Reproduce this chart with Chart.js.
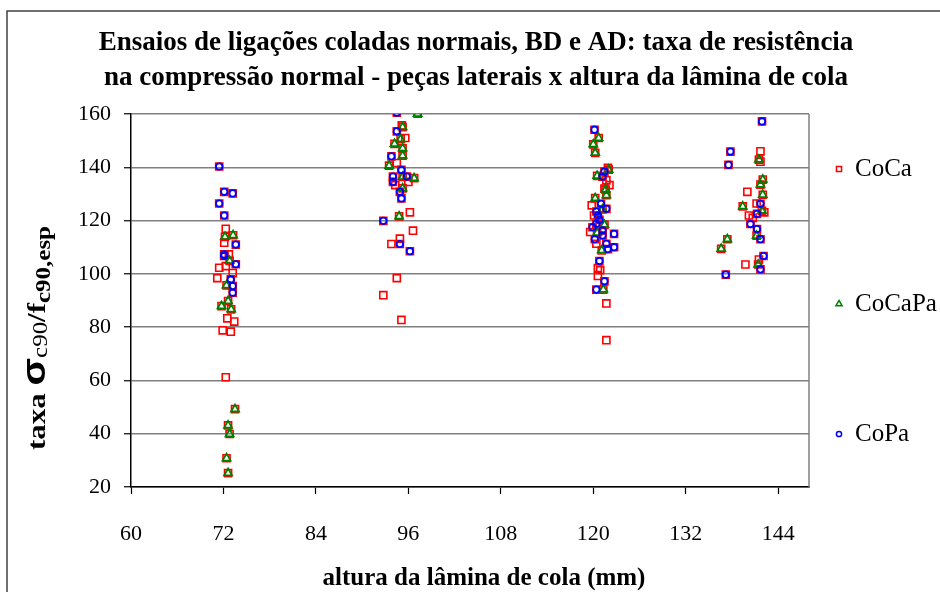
<!DOCTYPE html>
<html>
<head>
<meta charset="utf-8">
<script src="https://cdn.jsdelivr.net/npm/chart.js@4/dist/chart.umd.min.js"></script>
<style>
  body { margin: 0; background: #fff; }
  canvas { display: block; }
</style>
</head>
<body>
<canvas id="chart" width="940" height="592"></canvas>
<script>
// Points: [altura (mm), taxa]
const cocaOnly = [
    [72.3, 116.9], [72.1, 111.7], [72.7, 107.3], [72.3, 102.9], [71.45, 102.3], [73.2, 100.3],
    [71.2, 98.4], [72.5, 83.3], [73.4, 82.1], [71.9, 78.8], [72.95, 78.3], [72.3, 61.2],
    [95.15, 155.7], [95.6, 151.0], [94.5, 141.6], [94.3, 133.3], [96.0, 134.5], [96.2, 123.1],
    [96.6, 116.2], [94.9, 113.2], [93.8, 111.2], [94.5, 98.4], [92.75, 92.0], [95.1, 82.7],
    [121.9, 139.8], [121.7, 135.1], [122.1, 133.3], [121.45, 132.0], [119.8, 125.7], [120.1, 121.9],
    [119.6, 115.7], [120.4, 111.3], [120.6, 102.2], [120.9, 101.4], [120.6, 99.2], [121.7, 88.9],
    [121.7, 75.1],
    [141.7, 146.0], [141.7, 142.1], [140.0, 130.8], [141.2, 126.4], [142.2, 123.1], [140.2, 121.9],
    [140.7, 121.0], [141.5, 105.4], [139.75, 103.5]
];

const cocapa = [
    [72.2, 113.9], [73.25, 114.5], [72.8, 104.9], [72.4, 95.7], [72.6, 89.8], [71.75, 87.9],
    [73.0, 86.7], [73.5, 49.2], [72.6, 43.1], [72.8, 39.9], [72.4, 30.8], [72.6, 25.2],
    [97.2, 160.1], [95.25, 155.1], [95.0, 150.6], [94.2, 148.8], [95.25, 147.1], [95.25, 144.4],
    [93.5, 140.6], [95.25, 136.4], [96.75, 135.9], [95.25, 132.1], [94.8, 121.6],
    [120.7, 151.0], [120.0, 148.6], [120.25, 145.4], [122.0, 139.1], [120.5, 136.8], [121.6, 131.6],
    [121.7, 129.5], [120.25, 128.4], [121.2, 124.2], [121.45, 118.4], [120.5, 115.4], [121.1, 108.8],
    [121.3, 94.1],
    [141.5, 142.9], [142.0, 135.4], [141.7, 133.5], [142.0, 129.7], [139.4, 125.3], [141.9, 123.7],
    [141.2, 114.3], [137.4, 113.0], [136.6, 109.4], [141.4, 103.5]
];

const copa = [
    [71.45, 140.3], [72.1, 130.8], [73.2, 130.2], [71.45, 126.4], [72.1, 121.9], [73.6, 111.0],
    [72.1, 107.3], [72.1, 106.7], [73.6, 103.6], [72.95, 97.9], [73.2, 95.4], [73.2, 92.9],
    [94.5, 160.5], [94.5, 153.5], [93.8, 144.1], [95.1, 139.0], [94.0, 136.5], [95.8, 136.5],
    [94.0, 134.5], [94.9, 130.8], [95.1, 128.3], [92.75, 119.9], [94.9, 111.2], [96.2, 108.5],
    [120.16, 154.1], [121.45, 138.4], [121.2, 136.5], [121.0, 126.3], [121.7, 124.4], [120.4, 123.4],
    [120.6, 121.9], [120.8, 120.3], [120.4, 118.8], [119.9, 117.5], [121.2, 116.3], [121.2, 114.4],
    [122.7, 115.0], [120.2, 113.0], [121.7, 111.3], [122.7, 110.0], [121.9, 109.3], [120.8, 104.8],
    [121.45, 97.2], [120.4, 94.1],
    [141.9, 157.2], [137.8, 145.9], [137.55, 140.9], [141.7, 126.3], [141.25, 122.5], [140.4, 118.7],
    [141.25, 116.8], [141.7, 113.0], [142.1, 106.7], [141.7, 101.7], [137.2, 99.7]
];

const seriesNames = ['CoCa', 'CoCaPa', 'CoPa'];
const xTicks = [60, 72, 84, 96, 108, 120, 132, 144];
const yTicks = [20, 40, 60, 80, 100, 120, 140, 160];

const titleLines = [
    'Ensaios de ligações coladas normais, BD e AD: taxa de resistência',
    'na compressão normal - peças laterais x altura da lâmina de cola'
];
const xTitle = 'altura da lâmina de cola (mm)';

const SERIF = '"Liberation Serif", "Times New Roman", serif';
const toPts = arr => arr.map(p => ({ x: p[0], y: p[1] }));

// the red series sits under every green and blue marker in the reference
const cocaAll = cocaOnly.concat(cocapa, copa);

const legendItems = [
    { style: 'rect', color: '#ff0000', radius: 3.6, y: 169 },
    { style: 'triangle', color: '#008000', radius: 3.6, y: 304 },
    { style: 'circle', color: '#0000ff', radius: 2.6, y: 434 }
];

const decorPlugin = {
    id: 'decor',
    beforeDraw(chart) {
        const c = chart.ctx;
        c.save();
        c.fillStyle = '#fff';
        c.fillRect(0, 0, chart.width, chart.height);
        c.strokeStyle = '#404040';
        c.lineWidth = 1.5;
        c.strokeRect(7, 11, 1000, 1000);
        c.restore();
    },
    afterDatasetsDraw(chart) {
        const c = chart.ctx;
        const a = chart.chartArea;
        c.save();
        // right border of the plot area
        c.strokeStyle = '#808080';
        c.lineWidth = 1.5;
        c.beginPath();
        c.moveTo(a.right, a.top);
        c.lineTo(a.right, a.bottom);
        c.stroke();

        c.fillStyle = '#000';
        c.textAlign = 'center';
        c.textBaseline = 'alphabetic';
        c.font = 'bold 27px ' + SERIF;
        c.fillText(titleLines[0], 476, 50);
        c.fillText(titleLines[1], 476, 85);

        c.font = 'bold 25px ' + SERIF;
        c.fillText(xTitle, 484, 585);

        // y title with subscripts, rotated and stretched to the reference length
        const segs = [
            { t: 'taxa ', f: 'bold 26px ' + SERIF, dy: 0 },
            { t: 'σ', f: 'bold 34px "Liberation Sans", Arial, sans-serif', dy: 0 },
            { t: 'c90', f: '21px ' + SERIF, dy: 2 },
            { t: '/f', f: 'bold 26px ' + SERIF, dy: 0 },
            { t: 'c90,esp', f: 'bold 21px ' + SERIF, dy: 5 }
        ];
        let total = 0;
        segs.forEach(s => { c.font = s.f; s.w = c.measureText(s.t).width; total += s.w; });
        c.translate(45, 338);
        c.rotate(-Math.PI / 2);
        c.scale(224 / total, 1);
        c.textAlign = 'left';
        let px = -total / 2;
        segs.forEach(s => {
            c.font = s.f;
            c.fillText(s.t, px, s.dy);
            px += s.w;
        });
        c.restore();

        // legend
        c.save();
        legendItems.forEach((it, i) => {
            c.strokeStyle = it.color;
            c.fillStyle = 'rgba(0,0,0,0)';
            c.lineWidth = 1.5;
            Chart.helpers.drawPoint(c, { pointStyle: it.style, radius: it.radius, rotation: 0, borderWidth: 1.5 }, 839, it.y);
            c.fillStyle = '#000';
            c.font = '25px ' + SERIF;
            c.textAlign = 'left';
            c.textBaseline = 'middle';
            c.fillText(seriesNames[i], 855, it.y);
        });
        c.restore();
    }
};

const ctx = document.getElementById('chart');

new Chart(ctx, {
    type: 'scatter',
    data: {
        datasets: [
            {
                label: seriesNames[0],
                data: toPts(cocaAll),
                pointStyle: 'rect',
                pointRadius: 5,
                borderColor: '#ff0000',
                backgroundColor: 'rgba(0,0,0,0)',
                pointBorderWidth: 1.6,
                order: 3
            },
            {
                label: seriesNames[1],
                data: toPts(cocapa),
                pointStyle: 'triangle',
                pointRadius: 4.6,
                borderColor: '#008000',
                backgroundColor: 'rgba(0,0,0,0)',
                pointBorderWidth: 1.8,
                order: 2
            },
            {
                label: seriesNames[2],
                data: toPts(copa),
                pointStyle: 'circle',
                pointRadius: 3.2,
                borderColor: '#0000ff',
                backgroundColor: 'rgba(0,0,0,0)',
                pointBorderWidth: 1.8,
                order: 1
            }
        ]
    },
    options: {
        responsive: false,
        animation: false,
        devicePixelRatio: 1,
        layout: { padding: { left: 0, top: 114, right: 131, bottom: 0 } },
        plugins: {
            legend: { display: false },
            tooltip: { enabled: false }
        },
        scales: {
            x: {
                type: 'linear',
                min: 60,
                max: 148,
                afterBuildTicks: s => { s.ticks = xTicks.map(v => ({ value: v })); },
                afterFit: s => { s.height = 105; },
                ticks: {
                    color: '#000',
                    padding: 27,
                    maxRotation: 0,
                    font: { family: SERIF, size: 22 }
                },
                grid: { drawOnChartArea: false, tickLength: 7, tickColor: '#000', tickWidth: 1.2 },
                border: { color: '#000', width: 1.5 }
            },
            y: {
                min: 20,
                max: 160,
                afterBuildTicks: s => { s.ticks = yTicks.map(v => ({ value: v })); },
                afterFit: s => { s.width = 131; },
                ticks: {
                    color: '#000',
                    padding: 13,
                    font: { family: SERIF, size: 22 }
                },
                grid: { color: '#808080', lineWidth: 1.5, tickLength: 7, tickColor: '#000', tickWidth: 1.2 },
                border: { color: '#000', width: 1.5 }
            }
        }
    },
    plugins: [decorPlugin]
});
</script>
</body>
</html>
